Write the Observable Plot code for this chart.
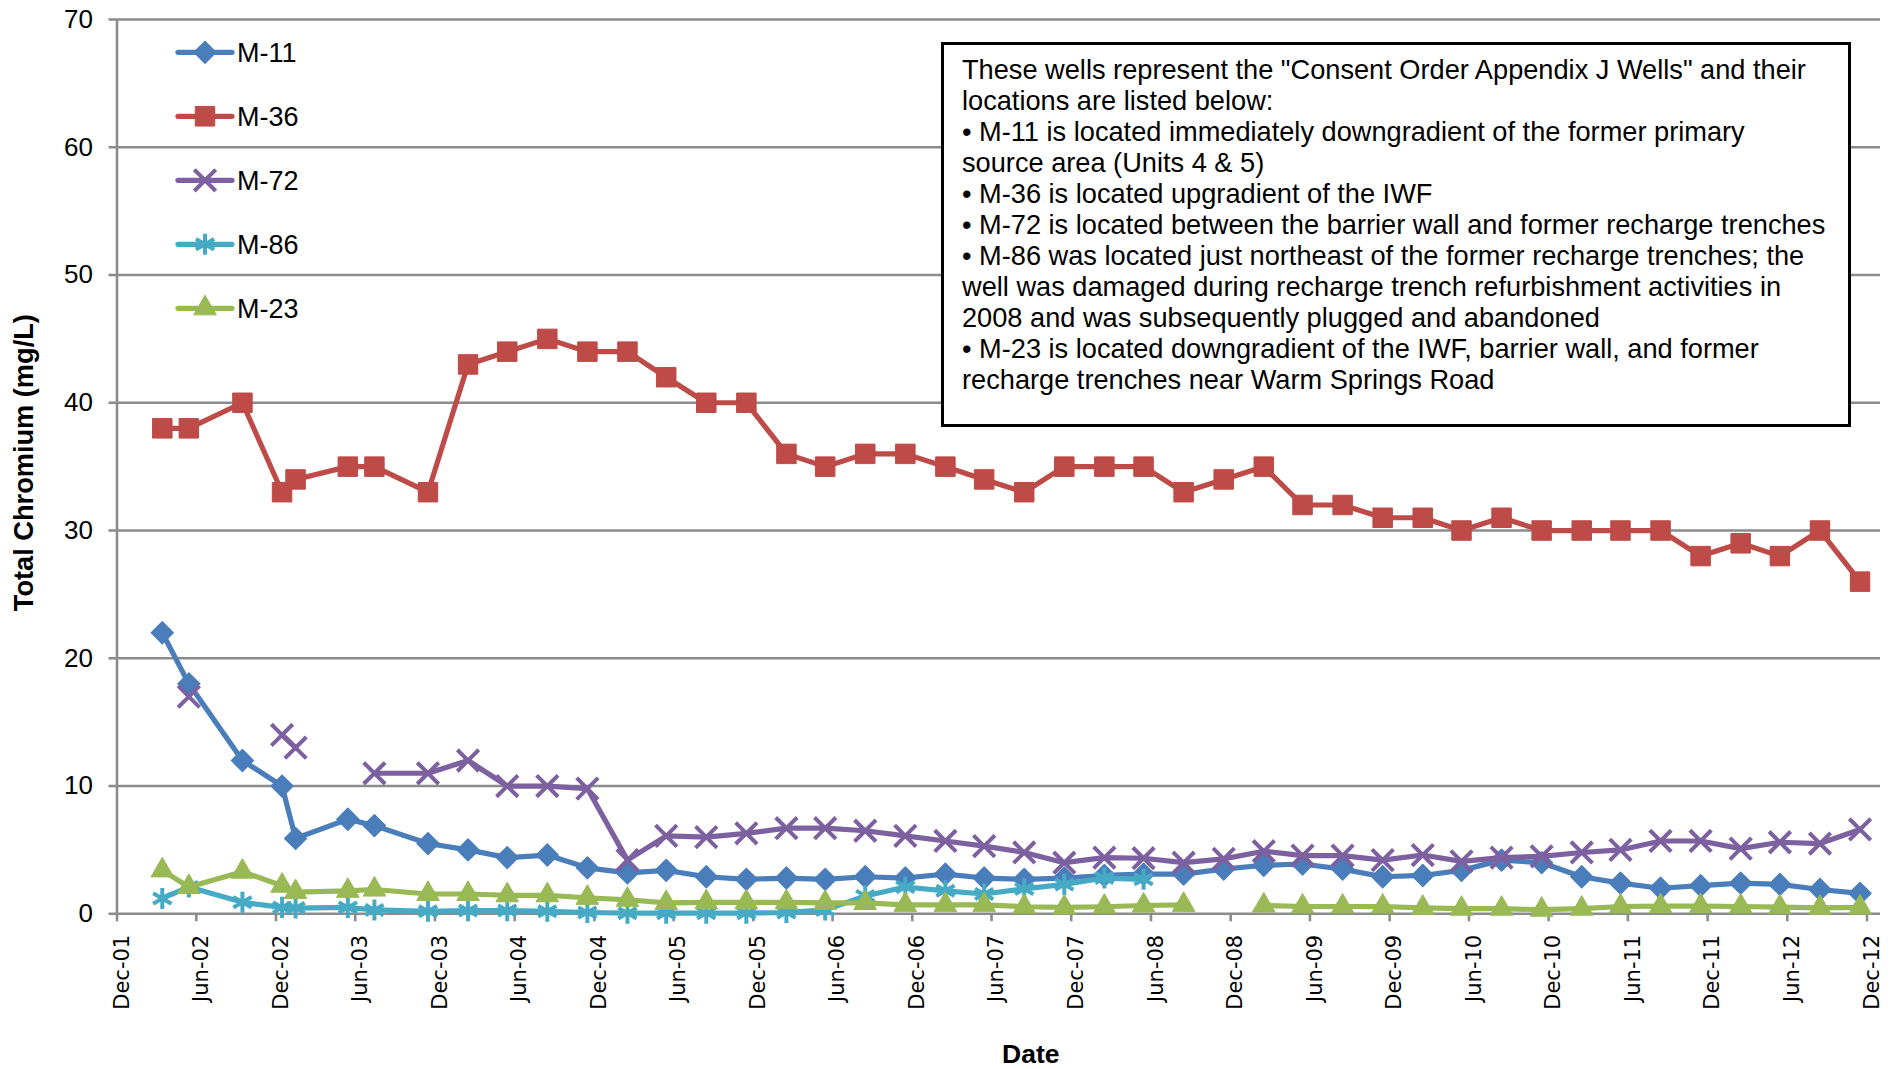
<!DOCTYPE html>
<html>
<head>
<meta charset="utf-8">
<script src="https://cdn.jsdelivr.net/npm/d3@7"></script>
<script src="https://cdn.jsdelivr.net/npm/@observablehq/plot@0.6"></script>
<style>
  body { margin: 0; background: #fff; }
  #wrap { position: relative; width: 1902px; height: 1069px; overflow: hidden; background: #fff; }
  #wrap svg { position: absolute; left: 0; top: 0; }
  #note {
    position: absolute; left: 941px; top: 42px; width: 904px; height: 379px;
    border: 3px solid #000; background: #fff; box-sizing: content-box;
    font-family: "Liberation Sans", Arial, sans-serif; font-size: 27.2px; line-height: 31px;
    color: #000; padding: 0;
  }
  #note .inner { position: absolute; left: 18px; top: 8.5px; white-space: nowrap; }
</style>
</head>
<body>
<div id="wrap"></div>
<script>
// ---------- data ----------
const dates = ["2002-03-15","2002-05-15","2002-09-15","2002-12-15","2003-01-15","2003-05-15","2003-07-15","2003-11-15",
  "2004-02-15","2004-05-15","2004-08-15","2004-11-15","2005-02-15","2005-05-15","2005-08-15","2005-11-15",
  "2006-02-15","2006-05-15","2006-08-15","2006-11-15","2007-02-15","2007-05-15","2007-08-15","2007-11-15",
  "2008-02-15","2008-05-15","2008-08-15","2008-11-15","2009-02-15","2009-05-15","2009-08-15","2009-11-15",
  "2010-02-15","2010-05-15","2010-08-15","2010-11-15","2011-02-15","2011-05-15","2011-08-15","2011-11-15",
  "2012-02-15","2012-05-15","2012-08-15","2012-11-15"];

const wells = ["M-11", "M-36", "M-72", "M-86", "M-23"];

const m11 = [22,18,12,10,5.9,7.4,6.9,5.5,5.0,4.4,4.6,3.6,
  3.2,3.4,2.9,2.7,2.8,2.7,2.9,2.8,3.1,2.8,2.7,2.8,
  3.0,3.1,3.1,3.5,3.8,3.9,3.5,2.9,3.0,3.4,4.2,4.0,
  2.9,2.4,2.0,2.2,2.4,2.3,1.9,1.6];
const m36 = [38,38,40,33,34,35,35,33,43,44,45,44,
  44,42,40,40,36,35,36,36,35,34,33,35,
  35,35,33,34,35,32,32,31,31,30,31,30,
  30,30,30,28,29,28,30,26];
const m72 = [null,17,null,14,13,null,11,11,12,10,10,9.8,
  4.2,6.1,6.0,6.3,6.7,6.7,6.5,6.1,5.7,5.3,4.8,4.0,
  4.4,4.35,4.0,4.3,4.9,4.55,4.55,4.2,4.6,4.1,4.4,4.5,
  4.8,5.0,5.7,5.7,5.1,5.6,5.5,6.6];
const m86 = [1.2,2.1,0.9,0.5,0.45,0.5,0.3,0.2,0.25,0.25,0.2,0.1,
  0.05,0.05,0.05,0.05,0.1,0.3,1.4,2.1,1.8,1.55,1.95,2.3,
  2.8,2.7,null,null,null,null,null,null,null,null,null,null,
  null,null,null,null,null,null,null,null];
const m23 = [3.4,2.1,3.3,2.2,1.7,1.8,1.9,1.55,1.55,1.45,1.45,1.25,
  1.1,0.85,0.9,0.9,0.9,0.85,0.85,0.7,0.7,0.7,0.55,0.5,
  0.55,0.65,0.7,null,0.65,0.57,0.57,0.57,0.47,0.4,0.4,0.32,
  0.4,0.57,0.6,0.6,0.57,0.52,0.47,0.5];

const tickDates = ["2001-12-01","2002-06-01","2002-12-01","2003-06-01","2003-12-01","2004-06-01","2004-12-01",
  "2005-06-01","2005-12-01","2006-06-01","2006-12-01","2007-06-01","2007-12-01","2008-06-01","2008-12-01",
  "2009-06-01","2009-12-01","2010-06-01","2010-12-01","2011-06-01","2011-12-01","2012-06-01","2012-12-01"];
const yTicks = [0,10,20,30,40,50,60,70];

const noteLines = [
  "These wells represent the \"Consent Order Appendix J Wells\" and their",
  "locations are listed below:",
  "\u2022 M-11 is located immediately downgradient of the former primary",
  "source area (Units 4 & 5)",
  "\u2022 M-36 is located upgradient of the IWF",
  "\u2022 M-72 is located between the barrier wall and former recharge trenches",
  "\u2022 M-86 was located just northeast of the former recharge trenches; the",
  "well was damaged during recharge trench refurbishment activities in",
  "2008 and was subsequently plugged and abandoned",
  "\u2022 M-23 is located downgradient of the IWF, barrier wall, and former",
  "recharge trenches near Warm Springs Road"
];

// ---------- styles ----------
const seriesValues = [m11, m36, m72, m86, m23];
const colors = ["#4A7EBB", "#BE4B48", "#7D60A0", "#46AAC5", "#98B954"];
const symbols = ["diamond2", "square", "times", "asterisk", "triangle"];
const filled = [true, true, false, false, true];
const radii = [9.8, 11, 9.8, 10, 8.4];
const symStroke = [1.5, 1, 4, 4, 1];

const parse = d3.utcParse("%Y-%m-%d");
const gridColor = "#8c8c8c";
const sans = "'Liberation Sans', Arial, sans-serif";

const W = 1902, H = 1069;
const xDomain = [parse("2001-12-01"), parse("2013-01-01")];

const marks = [
  Plot.gridY(yTicks.filter(d => d > 0), {stroke: gridColor, strokeOpacity: 1, strokeWidth: 2.6}),
  Plot.ruleY([0], {stroke: gridColor, strokeWidth: 2.6}),
  Plot.ruleX([xDomain[0]], {y1: 0, y2: 70, stroke: gridColor, strokeWidth: 2.6}),
  Plot.axisY({ticks: yTicks, tickSize: 8, tickPadding: 16, fontSize: 26, label: null,
    stroke: gridColor, strokeWidth: 2.6, fill: "#000", tickFormat: d => String(d)}),
  Plot.axisX({ticks: tickDates.map(parse), tickSize: 8, tickPadding: 0, label: null,
    stroke: gridColor, strokeWidth: 2.6, tickFormat: () => ""}),
  Plot.axisX({ticks: tickDates.map(parse), tickSize: 0, tickPadding: 21, label: null,
    tickRotate: -90, fontSize: 21, fill: "#000", dx: 5, tickFormat: d3.utcFormat("%b-%y")}),
  Plot.text(["Total Chromium (mg/L)"], {frameAnchor: "left", rotate: -90, dx: -92.5, dy: -4,
    textAnchor: "middle", lineAnchor: "middle",
    fontSize: 27.2, fontWeight: "bold", fontFamily: sans, fill: "#000"}),
  Plot.text(["Date"], {frameAnchor: "bottom", dx: 32, dy: 141,
    textAnchor: "middle", lineAnchor: "middle",
    fontSize: 26.5, fontWeight: "bold", fontFamily: sans, fill: "#000"})
];

wells.forEach((w, i) => {
  const rows = dates.map((d, j) => ({date: parse(d), value: seriesValues[i][j], well: w}));
  marks.push(Plot.line(rows, {x: "date", y: "value", stroke: colors[i], strokeWidth: 5.2,
    strokeLinejoin: "round", strokeLinecap: "round", curve: "linear"}));
  const pts = rows.filter(r => r.value != null);
  marks.push(Plot.dot(pts, {x: "date", y: "value", symbol: () => symbols[i], r: radii[i],
    fill: filled[i] ? colors[i] : "none", stroke: colors[i], strokeWidth: symStroke[i],
    strokeLinejoin: "round"}));
});

const chart = Plot.plot({
  width: W, height: H,
  marginLeft: 116.5, marginRight: 22, marginTop: 19, marginBottom: 1069 - 913.3,
  x: {type: "utc", domain: xDomain},
  y: {domain: [0, 70]},
  symbol: {type: "identity"},
  style: {background: "#fff", color: "#000", fontFamily: sans},
  marks
});

const wrap = document.getElementById("wrap");
wrap.appendChild(chart);

const svg = d3.select(chart);
svg.selectAll('g[aria-label="x-axis tick label"]').attr("font-family", "'DejaVu Sans', Verdana, sans-serif");
svg.selectAll('g[aria-label="y-axis tick label"]').attr("font-family", sans);

// ---------- legend (overlay) ----------
const leg = d3.select(wrap).append("svg").attr("width", W).attr("height", H)
  .style("pointer-events", "none");
const legY0 = 52.3, legStep = 64;
const symbolMap = {diamond2: d3.symbolDiamond2, square: d3.symbolSquare, times: d3.symbolTimes,
  asterisk: d3.symbolAsterisk, triangle: d3.symbolTriangle};
wells.forEach((w, i) => {
  const y = legY0 + i * legStep;
  leg.append("line").attr("x1", 178).attr("x2", 232).attr("y1", y).attr("y2", y)
    .attr("stroke", colors[i]).attr("stroke-width", 5.2).attr("stroke-linecap", "round");
  leg.append("path")
    .attr("d", d3.symbol(symbolMap[symbols[i]], Math.PI * radii[i] * radii[i])())
    .attr("transform", `translate(205,${y})`)
    .attr("fill", filled[i] ? colors[i] : "none")
    .attr("stroke", colors[i]).attr("stroke-width", symStroke[i]).attr("stroke-linejoin", "round");
  leg.append("text").attr("x", 237).attr("y", y).attr("dy", "0.35em")
    .attr("font-family", sans).attr("font-size", 27).attr("fill", "#000").text(w);
});

// ---------- annotation box ----------
const note = d3.select(wrap).append("div").attr("id", "note");
const inner = note.append("div").attr("class", "inner");
noteLines.forEach(t => inner.append("div").text(t));
</script>
</body>
</html>
